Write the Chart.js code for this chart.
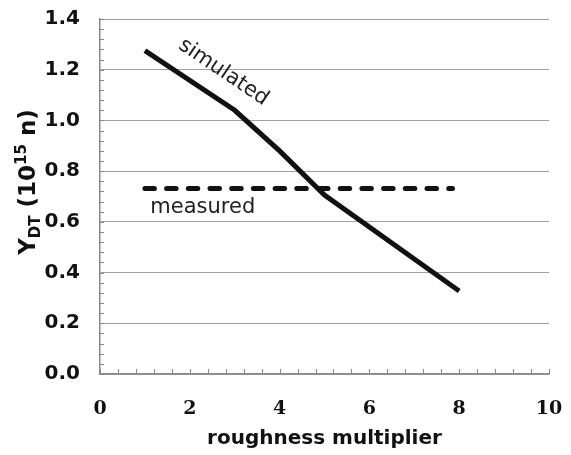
<!DOCTYPE html>
<html>
<head>
<meta charset="utf-8">
<script src="https://cdn.jsdelivr.net/npm/chart.js@4"></script>
<style>
  html, body { margin: 0; padding: 0; background: #fff; }
  #wrap { width: 571px; height: 455px; }
</style>
</head>
<body>
<div id="wrap"><canvas id="chart" width="571" height="455"></canvas></div>
<script>
// data
const simX = [1, 3, 4, 5, 8];
const simY = [1.275, 1.04, 0.88, 0.706, 0.327];
const measX = [1, 7.85];
const measY = [0.732, 0.732];
const xTicks = [0, 2, 4, 6, 8, 10];
const yTicks = [0.0, 0.2, 0.4, 0.6, 0.8, 1.0, 1.2, 1.4];

const toPoints = (xs, ys) => xs.map((x, i) => ({ x: x, y: ys[i] }));

// minor tick marks (pointing into the plot), curve labels and the y title
const extras = {
    id: "extras",
    afterDraw(chart) {
        const ctx = chart.ctx;
        const xs = chart.scales.x, ys = chart.scales.y;
        const area = chart.chartArea;
        ctx.save();
        ctx.strokeStyle = "#888";
        ctx.lineWidth = 1;
        ctx.beginPath();
        for (let v = 0; v <= 10.001; v += 0.4) {
            const px = Math.round(xs.getPixelForValue(v)) + 0.5;
            ctx.moveTo(px, area.bottom);
            ctx.lineTo(px, area.bottom - 5);
        }
        for (let v = 0; v <= 1.4001; v += 0.04) {
            const py = Math.round(ys.getPixelForValue(v)) + 0.5;
            ctx.moveTo(area.left, py);
            ctx.lineTo(area.left + 4, py);
        }
        ctx.stroke();

        // curve labels
        ctx.fillStyle = "#222";
        ctx.font = "21px 'DejaVu Sans'";
        ctx.textBaseline = "alphabetic";
        ctx.textAlign = "left";
        ctx.fillText("measured", xs.getPixelForValue(1.12), ys.getPixelForValue(0.635));

        ctx.save();
        ctx.translate(xs.getPixelForValue(2.75), ys.getPixelForValue(1.19));
        ctx.rotate(34 * Math.PI / 180);
        ctx.textAlign = "center";
        ctx.textBaseline = "middle";
        ctx.fillText("simulated", 0, 0);
        ctx.restore();

        // y axis title: Y_DT (10^15 n)
        const big = "bold 23px 'DejaVu Sans'";
        const small = "bold 15px 'DejaVu Sans'";
        const parts = [
            { t: "Y", f: big, dy: 0 },
            { t: "DT", f: small, dy: 5 },
            { t: " (10", f: big, dy: 0 },
            { t: "15", f: small, dy: -9 },
            { t: " n)", f: big, dy: 0 }
        ];
        let total = 0;
        parts.forEach(p => { ctx.font = p.f; p.w = ctx.measureText(p.t).width; total += p.w; });
        ctx.translate(35, 182);
        ctx.rotate(-Math.PI / 2);
        ctx.fillStyle = "#111";
        ctx.textAlign = "left";
        ctx.textBaseline = "alphabetic";
        let cx = -total / 2;
        parts.forEach(p => {
            ctx.font = p.f;
            ctx.fillText(p.t, cx, p.dy);
            cx += p.w;
        });
        ctx.restore();
    }
};

new Chart(document.getElementById("chart"), {
    type: "scatter",
    data: {
        datasets: [
            {
                label: "simulated",
                data: toPoints(simX, simY),
                showLine: true,
                borderColor: "#111",
                borderWidth: 5,
                pointRadius: 0,
                tension: 0
            },
            {
                label: "measured",
                data: toPoints(measX, measY),
                showLine: true,
                borderColor: "#111",
                borderWidth: 5,
                borderDash: [9.5, 12.2],
                borderCapStyle: "round",
                pointRadius: 0
            }
        ]
    },
    options: {
        responsive: false,
        animation: false,
        layout: { padding: { left: 0, right: 22, top: 19, bottom: 0 } },
        plugins: { legend: { display: false }, tooltip: { enabled: false } },
        scales: {
            x: {
                type: "linear",
                min: 0,
                max: 10,
                afterBuildTicks: s => { s.ticks = xTicks.map(v => ({ value: v })); },
                afterFit: s => { s.height = 81; },
                grid: { drawOnChartArea: false, drawTicks: true, tickLength: 24, tickColor: "rgba(0,0,0,0)" },
                border: { display: true, color: "#888", width: 1.5 },
                ticks: {
                    color: "#111",
                    padding: 0,
                    maxRotation: 0,
                    font: { family: "'DejaVu Serif'", size: 19, weight: "bold" }
                },
                title: {
                    display: true,
                    text: "roughness multiplier",
                    color: "#111",
                    padding: { top: 0, bottom: 4 },
                    font: { family: "'DejaVu Sans'", size: 20, weight: "bold" }
                }
            },
            y: {
                type: "linear",
                min: 0,
                max: 1.4,
                afterBuildTicks: s => { s.ticks = yTicks.map(v => ({ value: v })); },
                afterFit: s => { s.width = 100; },
                grid: { color: "#a0a0a0", lineWidth: 1, drawTicks: true, tickLength: 20, tickColor: "rgba(0,0,0,0)" },
                border: { display: true, color: "#888", width: 1.5 },
                ticks: {
                    color: "#111",
                    padding: 0,
                    callback: v => v.toFixed(1),
                    font: { family: "'DejaVu Sans'", size: 20, weight: "bold" }
                }
            }
        }
    },
    plugins: [extras]
});
</script>
</body>
</html>
